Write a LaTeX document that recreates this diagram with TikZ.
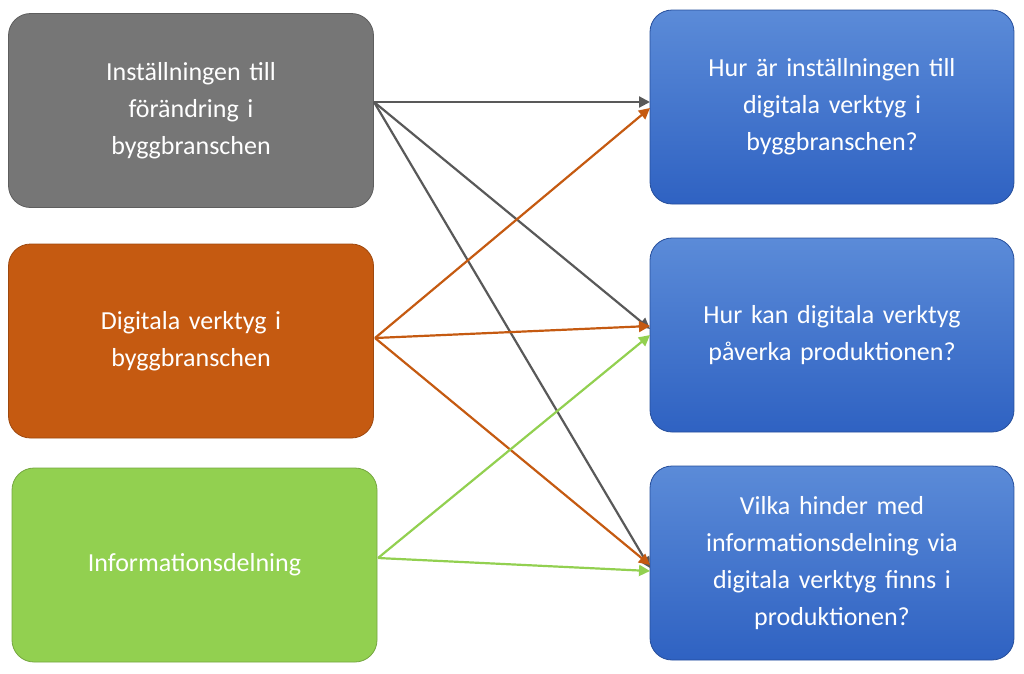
\documentclass[tikz,border=0pt]{standalone}
\usepackage{fontspec}
\setmainfont{Carlito}
\usetikzlibrary{arrows.meta}
\definecolor{cgray}{HTML}{767676}
\definecolor{corange}{HTML}{C55A11}
\definecolor{cgreen}{HTML}{92D050}
\definecolor{agray}{HTML}{595959}
\definecolor{btop}{HTML}{5B8BD8}
\definecolor{bbot}{HTML}{2F62C2}
\tikzset{
 box/.style={rounded corners=22pt, minimum width=365pt, minimum height=194pt, text width=330pt, align=center, font=\fontsize{26}{37}\selectfont, text=white, draw=#1!80!black, line width=0.8pt, fill=#1},
 qbox/.style={rounded corners=22pt, minimum width=364pt, minimum height=194pt, text width=330pt, align=center, font=\fontsize{26}{37}\selectfont, text=white, draw=bbot!80!black, line width=0.8pt, top color=btop, bottom color=bbot},
 conn/.style={draw=#1, line width=2.2pt, -{Triangle[length=11pt,width=11pt]}}
}
\begin{document}
\begin{tikzpicture}[x=1pt,y=-1pt]
\useasboundingbox (0,0) rectangle (1024,673);
\node[box=cgray] (g) at (191,110.5) {Inställningen till\\förändring i\\byggbranschen};
\node[box=corange] (o) at (191,341) {Digitala verktyg i\\byggbranschen};
\node[box=cgreen] (n) at (194.5,565) {Informationsdelning};
\node[qbox] (q1) at (832,107) {Hur är inställningen till\\digitala verktyg i\\byggbranschen?};
\node[qbox] (q2) at (832,335) {Hur kan digitala verktyg\\påverka produktionen?};
\node[qbox] (q3) at (832,563) {Vilka hinder med\\informationsdelning via\\digitala verktyg finns i\\produktionen?};
\coordinate (gs) at (374,102);
\coordinate (os) at (375,338);
\coordinate (ns) at (378,558);
\coordinate (e1a) at (650,102);
\coordinate (e1b) at (650,108);
\coordinate (e2a) at (650,329);
\coordinate (e2b) at (650,326);
\coordinate (e2c) at (650,335);
\coordinate (e3a) at (650,568);
\coordinate (e3b) at (650,565);
\coordinate (e3c) at (650,571);
\draw[conn=agray] (gs) -- (e1a);
\draw[conn=agray] (gs) -- (e2a);
\draw[conn=agray] (gs) -- (e3a);
\draw[conn=corange] (os) -- (e1b);
\draw[conn=corange] (os) -- (e2b);
\draw[conn=corange] (os) -- (e3b);
\draw[conn=cgreen] (ns) -- (e2c);
\draw[conn=cgreen] (ns) -- (e3c);
\end{tikzpicture}
\end{document}
